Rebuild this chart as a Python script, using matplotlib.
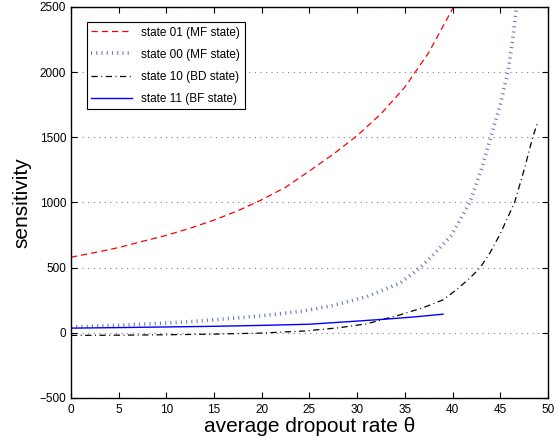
#!/usr/bin/env python

# sensitivity of each state vs average dropout rate

import matplotlib
matplotlib.use("Agg")
from matplotlib import pyplot as plt

plt.rcParams['font.family'] = ['Liberation Sans', 'DejaVu Sans']

# state 01 (MF state), red dashed
theta_01 = [0, 2.5, 5, 7.5, 10, 12.5, 15, 17.5, 20, 22.5, 25, 27.5, 30, 32.5, 35, 37.5, 40.1]
sens_01 = [580, 616, 654, 702, 748, 803, 865, 937, 1021, 1117, 1242, 1371, 1513, 1680, 1885, 2150, 2500]

# state 00 (MF state), blue dotted
theta_00 = [0, 5, 10, 12.8, 15, 20, 24.5, 27.5, 31, 34.5, 36.6, 38.3, 39.9, 41.8, 43.0, 44.0, 45.0, 45.8, 46.3, 46.7]
sens_00 = [45, 58, 75, 87, 100, 130, 169, 210, 278, 381, 500, 623, 750, 1000, 1250, 1500, 1750, 2000, 2250, 2500]

# state 10 (BD state), black dash-dot
theta_10 = [0, 5, 10, 15, 20, 24.5, 28, 31, 34.5, 37, 39, 40.4, 41.8, 42.9, 43.9, 45, 46.5, 47.5, 48.4, 48.9]
sens_10 = [-20, -18, -15, -10, -2, 14, 38, 69, 138, 195, 253, 330, 419, 500, 611, 760, 1000, 1250, 1500, 1610]

# state 11 (BF state), blue solid
theta_11 = [0, 5, 10, 15, 20, 25, 30, 33, 36, 39]
sens_11 = [36, 40, 45, 50, 57, 66, 90, 105, 122, 143]

x_ticks = list(range(0, 51, 5))
y_ticks = list(range(-500, 2501, 500))

fig = plt.figure(figsize=(5.58, 4.40), dpi=100)
ax = fig.add_axes([0.1272, 0.0955, 0.8548, 0.8886])

ax.plot(theta_01, sens_01, color='#ff0000', lw=0.9, linestyle=(0, (5, 3.2)),
        label='state 01 (MF state)')
ax.plot(theta_00, sens_00, color='#6a78c0', lw=2.6, linestyle=(0, (0.3, 1.15)),
        label='state 00 (MF state)')
ax.plot(theta_10, sens_10, color='black', lw=0.9, linestyle=(0, (5, 2.8, 0.8, 2.8)),
        label='state 10 (BD state)')
ax.plot(theta_11, sens_11, color='#0000ff', lw=1.0, label='state 11 (BF state)')

ax.set_xlim(0, 50)
ax.set_ylim(-500, 2500)
ax.set_xticks(x_ticks)
ax.set_yticks(y_ticks)
ax.tick_params(direction='in', length=4, width=0.8, top=True, right=True, labelsize=8.5)
ax.tick_params(axis='x', pad=4)
ax.yaxis.grid(True, linestyle=(0, (1, 4)), color='#808080', lw=0.8)
for s in ax.spines.values():
    s.set_linewidth(1.0)

ax.set_xlabel('average dropout rate θ', fontsize=15, labelpad=1)
ax.set_ylabel('sensitivity', fontsize=15, labelpad=6)

leg = ax.legend(loc='upper left', bbox_to_anchor=(0.033, 0.962), borderaxespad=0,
                fontsize=8.5, handlelength=3.4, labelspacing=0.85, fancybox=False,
                edgecolor='black', framealpha=1)
leg.get_frame().set_linewidth(0.8)

plt.savefig('out.png', dpi=100)
